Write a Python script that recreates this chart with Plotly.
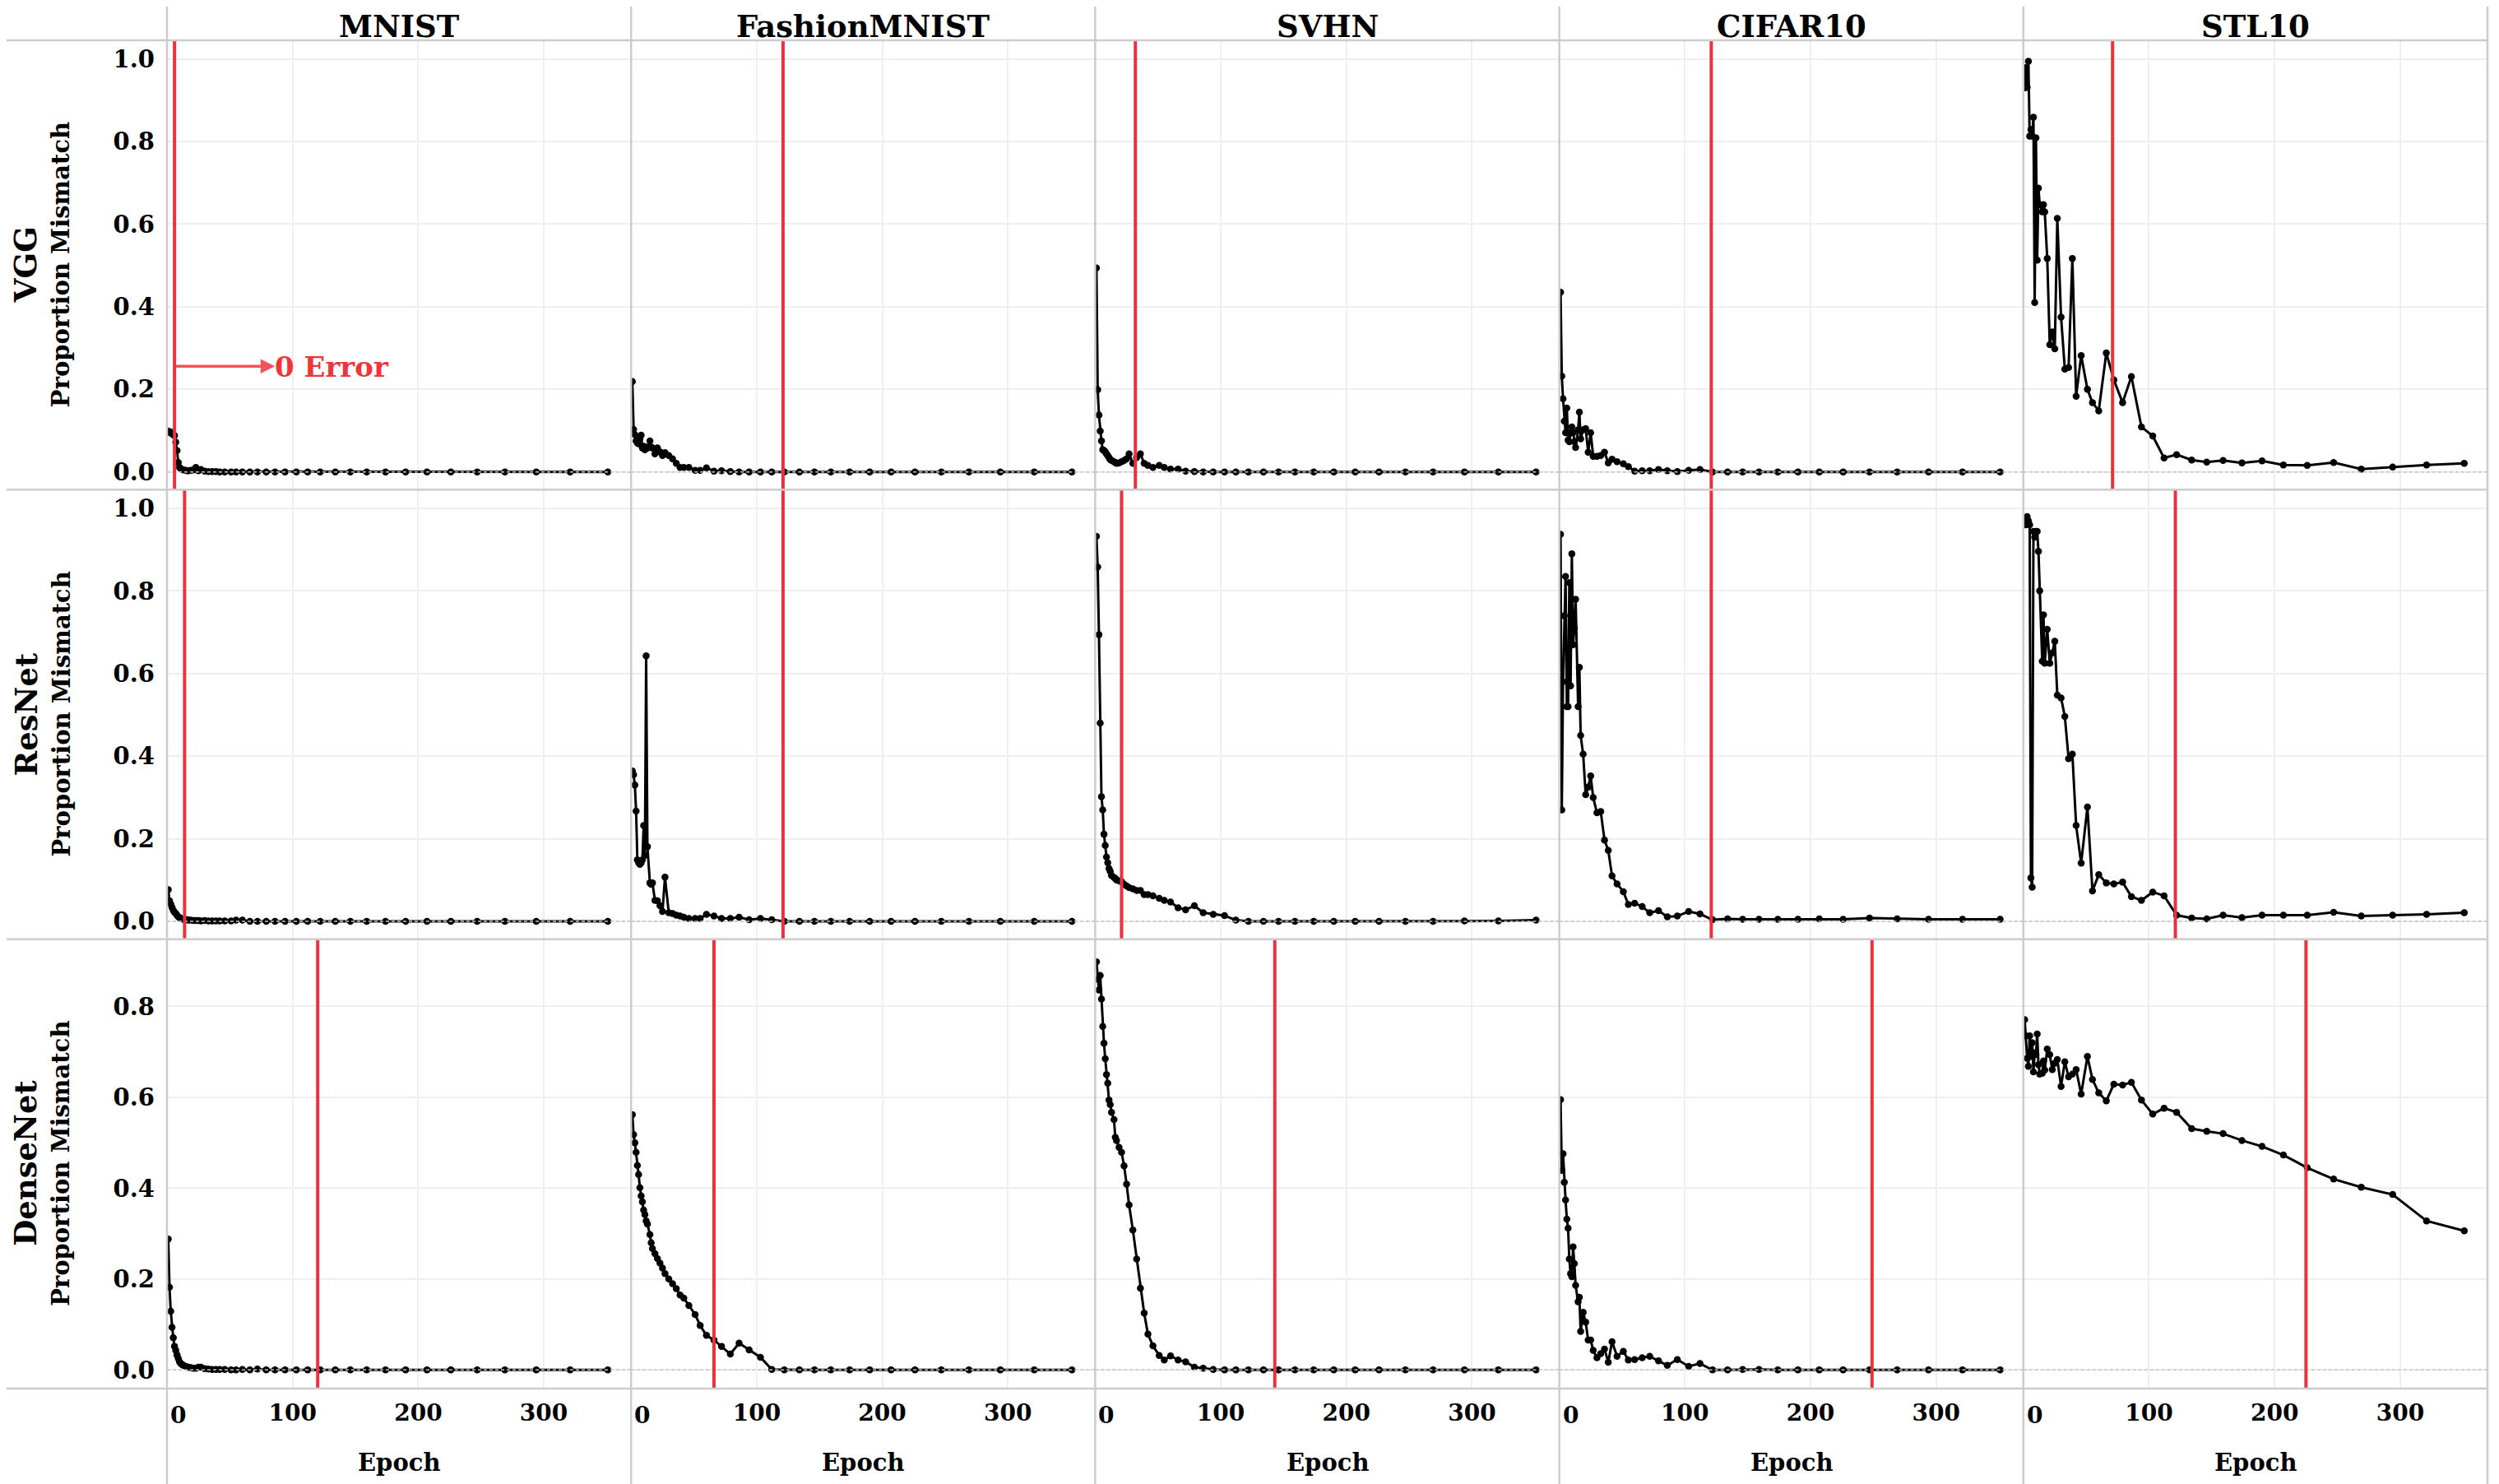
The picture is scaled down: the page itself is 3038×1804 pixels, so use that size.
import plotly.graph_objects as go
from plotly.subplots import make_subplots

DATASETS = ["MNIST", "FashionMNIST", "SVHN", "CIFAR10", "STL10"]
MODELS = ["VGG", "ResNet", "DenseNet"]

# checkpoint epochs (shared by every panel)
EPOCHS = [1, 2, 3, 4, 5, 6, 7, 8, 9, 10,
          11, 12, 13, 15, 16, 17, 19, 21, 23, 25,
          27, 30, 33, 36, 39, 42, 46, 51, 55, 60,
          66, 72, 79, 86, 94, 103, 112, 122, 134, 146,
          159, 174, 190, 207, 226, 247, 269, 294, 321, 351]

# VGG
mnist_vgg = [.099, .097, .094, .096, .090, .088, .072, .052, .023, .011,
             .008, .006, .005, .004, .003, .003, .004, .005, .011, .003,
             .006, .002, .001, .001, .001, 0, 0, 0, 0, 0,
             0, 0, 0, 0, 0, 0, 0, 0, 0, 0,
             0, 0, 0, 0, 0, 0, 0, 0, 0, 0]
fashion_vgg = [.219, .103, .090, .075, .070, .068, .080, .089, .058, .062,
               .054, .060, .058, .075, .060, .058, .044, .058, .049, .040,
               .047, .040, .032, .021, .011, .011, .011, .004, .004, .010,
               .002, .003, .001, 0, 0, 0, 0, 0, 0, 0,
               0, 0, 0, 0, 0, 0, 0, 0, 0, 0]
svhn_vgg = [.494, .199, .138, .099, .075, .054, .052, .049, .044, .040,
            .035, .030, .028, .025, .023, .021, .022, .025, .028, .032,
            .044, .021, .035, .044, .021, .016, .011, .016, .011, .007,
            .007, .002, .001, 0, 0, 0, 0, 0, 0, 0,
            0, 0, 0, 0, 0, 0, 0, 0, 0, 0]
cifar_vgg = [.435, .232, .177, .123, .095, .155, .077, .073, .095, .109,
             .095, .073, .059, .102, .145, .080, .102, .105, .048, .095,
             .038, .038, .040, .048, .022, .031, .025, .020, .013, .002,
             .003, .003, .006, .003, .001, .004, .006, 0, 0, 0,
             0, 0, 0, 0, 0, 0, 0, 0, 0, 0]
stl_vgg = [.930, .979, .931, .994, .813, .829, .813, .859, .410, .809,
           .513, .687, .647, .630, .647, .630, .517, .308, .339, .298,
           .614, .375, .249, .253, .517, .183, .282, .200, .168, .148,
           .288, .223, .168, .231, .109, .087, .034, .042, .029, .024,
           .028, .022, .027, .017, .016, .023, .007, .012, .017, .021]

# ResNet
mnist_resnet = [.077, .050, .042, .034, .027, .022, .019, .015, .011, .009,
                .007, .006, .005, .004, .004, .003, .003, .002, .002, .002,
                .001, .002, .001, .001, .001, .001, .001, .001, .003, .003,
                0, 0, 0, 0, 0, 0, 0, 0, 0, 0,
                0, 0, 0, 0, 0, 0, 0, 0, 0, 0]
fashion_resnet = [.364, .355, .330, .267, .149, .142, .138, .142, .149, .232,
                  .160, .643, .181, .093, .090, .093, .051, .050, .038, .024,
                  .107, .021, .019, .015, .013, .010, .007, .007, .007, .017,
                  .013, .007, .007, .010, .004, .007, .004, 0, 0, 0,
                  0, 0, 0, 0, 0, 0, 0, 0, 0, 0]
svhn_resnet = [.932, .858, .694, .480, .302, .270, .211, .184, .156, .142,
               .128, .121, .111, .106, .104, .100, .098, .096, .090, .086,
               .082, .079, .075, .075, .065, .065, .062, .056, .051, .047,
               .033, .028, .038, .021, .017, .014, .003, 0, 0, 0,
               0, 0, 0, 0, 0, 0, 0, .001, .001, .003]
cifar_resnet = [.937, .270, .580, .740, .835, .520, .520, .820, .570, .890,
                .670, .710, .780, .520, .615, .450, .405, .307, .325, .352,
                .300, .263, .266, .197, .172, .110, .091, .072, .041, .044,
                .036, .021, .026, .011, .013, .024, .018, .004, .006, .005,
                .005, .005, .005, .006, .005, .008, .006, .005, .005, .005]
stl_resnet = [.975, .960, .980, .970, .960, .105, .083, .944, .930, .944,
              .944, .896, .800, .630, .742, .625, .707, .625, .650, .678,
              .548, .541, .496, .394, .405, .232, .141, .277, .074, .113,
              .093, .091, .095, .060, .051, .071, .062, .015, .008, .006,
              .015, .009, .015, .015, .015, .022, .013, .015, .017, .021]

# DenseNet
mnist_densenet = [.288, .182, .129, .094, .071, .052, .043, .033, .025, .018,
                  .014, .012, .010, .008, .006, .006, .005, .004, .004, .006,
                  .006, .003, .002, .001, .001, .001, .001, 0, 0, .001,
                  0, .002, 0, 0, 0, 0, 0, 0, 0, 0,
                  0, 0, 0, 0, 0, 0, 0, 0, 0, 0]
fashion_densenet = [.562, .518, .500, .479, .450, .430, .401, .383, .370, .352,
                    .342, .328, .321, .298, .280, .267, .256, .245, .235, .224,
                    .212, .200, .190, .179, .165, .158, .142, .122, .098, .076,
                    .066, .052, .035, .059, .044, .028, .001, 0, 0, 0,
                    0, 0, 0, 0, 0, 0, 0, 0, 0, 0]
svhn_densenet = [.898, .860, .836, .868, .816, .756, .719, .685, .650, .631,
                 .594, .584, .567, .551, .512, .505, .490, .479, .449, .409,
                 .363, .308, .244, .180, .125, .079, .053, .032, .022, .031,
                 .022, .018, .006, .004, .001, 0, 0, 0, 0, 0,
                 0, 0, 0, 0, 0, 0, 0, 0, 0, 0]
cifar_densenet = [.595, .439, .476, .413, .374, .332, .312, .244, .212, .205,
                  .271, .234, .186, .150, .160, .085, .127, .105, .066, .066,
                  .043, .027, .036, .046, .017, .062, .030, .041, .022, .023,
                  .027, .030, .020, .010, .023, .008, .014, 0, 0, .001,
                  .001, 0, 0, 0, 0, 0, 0, 0, 0, 0]
stl_densenet = [.771, .735, .686, .668, .735, .690, .720, .656, .698, .694,
                .739, .672, .651, .653, .680, .660, .706, .694, .661, .675,
                .683, .624, .678, .645, .651, .661, .607, .690, .639, .610,
                .592, .629, .627, .633, .594, .563, .576, .567, .531, .525,
                .520, .505, .492, .473, .445, .420, .402, .386, .328, .306]

# epoch where the training error first hits zero (red rules)
zero_error_vgg = [6, 121, 32, 121, 71]
zero_error_resnet = [14, 121, 21, 121, 121]
zero_error_densenet = [120, 66, 143, 249, 225]

X_TICKS = [0, 100, 200, 300]
Y_TICKS = [0.0, 0.2, 0.4, 0.6, 0.8, 1.0]

series = {
    "VGG": [mnist_vgg, fashion_vgg, svhn_vgg, cifar_vgg, stl_vgg],
    "ResNet": [mnist_resnet, fashion_resnet, svhn_resnet, cifar_resnet, stl_resnet],
    "DenseNet": [mnist_densenet, fashion_densenet, svhn_densenet,
                 cifar_densenet, stl_densenet],
}
zero_error = {
    "VGG": zero_error_vgg,
    "ResNet": zero_error_resnet,
    "DenseNet": zero_error_densenet,
}
y_ranges = {"VGG": [-0.043, 1.045], "ResNet": [-0.043, 1.045],
            "DenseNet": [-0.041, 0.948]}

FONT = "DejaVu Serif"
RED = "#e8333f"
BORDER = "#cccccc"
GRID = "#efefef"

# the page body has an 8px margin, so the figure is 8px smaller than the window
W, H = 3030, 1796
ML, MR, MT, MB = 195, 14, 41, 116
PW, PH = W - ML - MR, H - MT - MB

fig = make_subplots(rows=3, cols=5, horizontal_spacing=0, vertical_spacing=0)

for r, model in enumerate(MODELS, start=1):
    for c, dataset in enumerate(DATASETS, start=1):
        fig.add_trace(
            go.Scatter(
                x=EPOCHS,
                y=series[model][c - 1],
                mode="lines+markers",
                line=dict(color="black", width=3),
                marker=dict(color="black", size=8.5),
                name=f"{model} {dataset}",
                showlegend=False,
            ),
            row=r,
            col=c,
        )
        fig.add_hline(y=0, line=dict(color="#c4c4c4", width=1.5, dash="4px,3px"),
                      row=r, col=c)
        fig.add_vline(x=zero_error[model][c - 1], line=dict(color=RED, width=4),
                      row=r, col=c)
        fig.update_yaxes(
            range=y_ranges[model], tickvals=Y_TICKS, tickformat=".1f",
            showgrid=True, gridcolor=GRID, gridwidth=2, zeroline=False,
            showline=False, ticks="", showticklabels=(c == 1),
            ticklabelstandoff=14,
            tickfont=dict(family=FONT, size=29, color="black", weight="bold"),
            row=r, col=c,
        )
        fig.update_xaxes(
            range=[0, 369.5], tickvals=X_TICKS,
            ticktext=["", "100", "200", "300"],
            showgrid=True, gridcolor=GRID, gridwidth=2, zeroline=False,
            showline=False, ticks="", showticklabels=(r == 3),
            ticklabelstandoff=10,
            tickfont=dict(family=FONT, size=28, color="black", weight="bold"),
            row=r, col=c,
        )


def px_x(px):
    return (px - ML) / PW


def px_y(py):
    return (H - MB - py) / PH


# table-like frame lines
for c in range(6):
    fig.add_shape(type="line", xref="paper", yref="paper",
                  x0=c / 5, x1=c / 5, y0=px_y(H), y1=px_y(0),
                  line=dict(color=BORDER, width=2.5), layer="above")
for r in range(4):
    fig.add_shape(type="line", xref="paper", yref="paper",
                  x0=px_x(0), x1=1, y0=r / 3, y1=r / 3,
                  line=dict(color=BORDER, width=2.5), layer="above")

annotations = []
for c, dataset in enumerate(DATASETS):
    annotations.append(dict(
        text=dataset, xref="paper", yref="paper", x=(c + 0.5) / 5, y=px_y(1),
        xanchor="center", yanchor="top", borderpad=0, showarrow=False,
        font=dict(family=FONT, size=37, color="black", weight="bold")))
    annotations.append(dict(
        text="Epoch", xref="paper", yref="paper", x=(c + 0.5) / 5, y=px_y(1770),
        xanchor="center", yanchor="middle", showarrow=False,
        font=dict(family=FONT, size=29, color="black", weight="bold")))
    # first x label sits flush with the left edge of the cell
    annotations.append(dict(
        text="0", xref=f"x{11 + c}", yref="paper", x=0, y=px_y(1712),
        xanchor="left", yanchor="middle", xshift=2, showarrow=False,
        font=dict(family=FONT, size=28, color="black", weight="bold")))

for r, model in enumerate(MODELS):
    yc = 1 - (r + 0.5) / 3
    annotations.append(dict(
        text=model, xref="paper", yref="paper", x=px_x(23), y=yc,
        xanchor="center", yanchor="middle", textangle=-90, showarrow=False,
        borderpad=0,
        font=dict(family=FONT, size=37, color="black", weight="bold")))
    annotations.append(dict(
        text="Proportion Mismatch", xref="paper", yref="paper", x=px_x(66), y=yc,
        xanchor="center", yanchor="middle", textangle=-90, showarrow=False,
        borderpad=0,
        font=dict(family=FONT, size=29, color="black", weight="bold")))

# "0 Error" callout in the MNIST / VGG cell
annotations.append(dict(
    text="", xref="x", yref="y", x=86, y=0.256, ax=zero_error_vgg[0], ay=0.256,
    axref="x", ayref="y", showarrow=True, arrowhead=2, arrowsize=1,
    arrowwidth=3.5, arrowcolor="#f0555d"))
annotations.append(dict(
    text="0 Error", xref="x", yref="y", x=84.5, y=0.254,
    xanchor="left", yanchor="middle", showarrow=False,
    font=dict(family=FONT, size=34, color="#f0353a", weight="bold")))

fig.update_layout(
    width=W, height=H, autosize=False,
    margin=dict(l=ML, r=MR, t=MT, b=MB),
    paper_bgcolor="white", plot_bgcolor="white",
    showlegend=False,
    annotations=annotations,
    font=dict(family=FONT, color="black"),
)

fig.write_html("out.html")
